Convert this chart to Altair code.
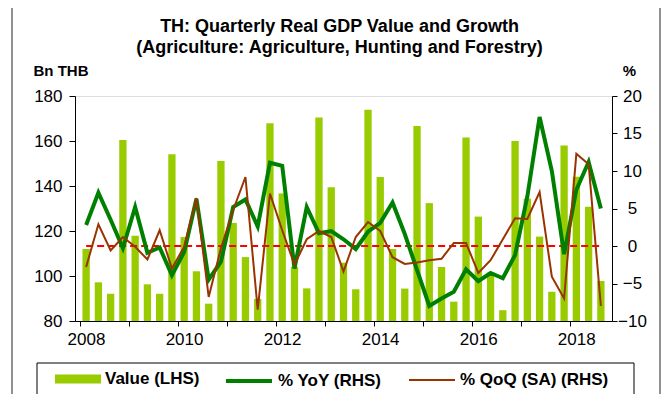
import altair as alt
import pandas as pd

# ---------------- data ----------------
quarters = [f"{y}Q{q}" for y in range(2008, 2019) for q in range(1, 5)][:43]

value_lhs = [112.0, 97.2, 92.1, 160.4,
             117.9, 96.3, 92.1, 154.1,
             117.3, 102.1, 87.7, 151.1,
             123.6, 108.4, 89.8, 167.9,
             136.7, 104.1, 94.5, 170.5,
             139.4, 105.9, 94.1, 173.9,
             144.0, 112.0, 94.4, 166.7,
             132.4, 104.0, 88.6, 161.6,
             126.4, 101.5, 84.8, 160.0,
             134.4, 117.5, 93.0, 158.0,
             144.1, 130.8, 97.8]

yoy = [2.8, 7.1, 3.5, -0.3,
       5.2, -0.9, -0.2, -3.9,
       -0.8, 6.3, -4.5, -2.1,
       5.2, 6.2, 2.6, 11.1,
       10.7, -3.0, 5.2, 1.7,
       2.0, 0.9, -0.4, 1.9,
       3.1, 5.8, 1.6, -3.2,
       -8.0, -7.0, -6.1, -3.1,
       -4.7, -3.6, -4.3, -1.2,
       6.6, 17.2, 10.0, -1.1,
       7.5, 11.2, 5.0]

qoq = [-2.8, 2.9, -0.6, 1.2,
       -0.1, -1.8, 2.1, -3.0,
       -0.1, 6.4, -6.8, -0.3,
       4.8, 9.2, -8.5, 7.0,
       2.1, -2.5, 0.9, 2.0,
       1.2, -3.4, 1.2, 3.2,
       2.0, -1.5, -2.4, -2.2,
       -1.9, -1.7, 0.4, 0.4,
       -3.6, -1.9, 0.9, 3.7,
       3.6, 7.2, -4.1, -7.0,
       12.3, 10.9, -8.0]

left_ticks = [80, 100, 120, 140, 160, 180]
right_ticks = [-10, -5, 0, 5, 10, 15, 20]
series_names = ["Value (LHS)", "% YoY (RHS)", "% QoQ (SA) (RHS)"]
title_lines = ["TH: Quarterly Real GDP Value and Growth",
               "(Agriculture: Agriculture, Hunting and Forestry)"]

df = pd.DataFrame({"quarter": quarters, "idx": list(range(len(quarters))),
                   "value": value_lhs, "yoy": yoy, "qoq": qoq})
n = len(quarters)

# ---------------- style ----------------
FONT = "Liberation Sans"
TICK_FS = 17
W, H = 537, 225
BAR_C, YOY_C, QOQ_C, ZERO_C = "#99CC00", "#008000", "#993300", "#FF0000"

x_scale = alt.Scale(domain=[-0.5, n - 0.5], nice=False, zero=False)
x_axis = alt.Axis(values=[-0.5 + 4 * k for k in range(11)],
                  labelExpr="(datum.value + 0.5) % 8 == 0 ? '' + (2008 + (datum.value + 0.5) / 4) : ''",
                  labelOffset=6, tickSize=5, labelPadding=5, grid=False, title=None,
                  labelFont=FONT, labelFontSize=TICK_FS, labelColor="black",
                  domainColor="black", tickColor="black", labelFlush=False,
                  labelOverlap=False)
x_enc = alt.X("idx:Q", scale=x_scale, axis=x_axis)

left_axis = alt.Axis(values=left_ticks, tickSize=6, labelPadding=7, grid=False,
                     labelFont=FONT, labelFontSize=TICK_FS, labelColor="black",
                     domainColor="black", tickColor="black",
                     title="Bn THB", titleAngle=0, titleX=-42, titleY=-21,
                     titleAlign="left", titleBaseline="alphabetic",
                     titleFont=FONT, titleFontSize=15, titleFontWeight="bold",
                     titleColor="black")
right_scale = alt.Scale(domain=[-10, 20], nice=False, zero=False)
right_axis = alt.Axis(values=right_ticks, orient="right", tickSize=5, labelPadding=15,
                      labelAlign="center",
                      grid=False, labelFont=FONT, labelFontSize=TICK_FS, labelColor="black",
                      domainColor="black", tickColor="black",
                      title="%", titleAngle=0, titleX=17, titleY=-21,
                      titleAlign="center", titleBaseline="alphabetic",
                      titleFont=FONT, titleFontSize=15, titleFontWeight="bold",
                      titleColor="black")


def legend(x, shape, sw):
    return alt.Legend(title=None, orient="none", legendX=x, legendY=260,
                      symbolType=shape, symbolSize=2116, symbolStrokeWidth=sw,
                      labelFont=FONT, labelFontSize=17, labelFontWeight="bold",
                      labelColor="black", labelOffset=4, padding=0)


bars = alt.Chart(df).transform_calculate(s=f"'{series_names[0]}'").mark_bar(
    size=7.3).encode(
    x=x_enc,
    y=alt.Y("value:Q", scale=alt.Scale(domain=[80, 180], nice=False, zero=False),
            axis=left_axis),
    y2=alt.datum(80),
    color=alt.Color("s:N", scale=alt.Scale(range=[BAR_C]),
                    legend=legend(-20, "M-1,-0.2H1V0.2H-1Z", 0)),
)

zero_rule = alt.Chart(alt.Data(values=[{}])).mark_rule(
    color=ZERO_C, strokeDash=[7, 4], strokeWidth=2).encode(
    x=alt.X(datum=0, type="quantitative", scale=x_scale, axis=x_axis),
    x2=alt.datum(n - 1),
    y=alt.Y(datum=0, type="quantitative", scale=right_scale, axis=right_axis),
)

yoy_line = alt.Chart(df).transform_calculate(s=f"'{series_names[1]}'").mark_line(
    strokeWidth=4).encode(
    x=x_enc,
    y=alt.Y("yoy:Q", scale=right_scale, axis=right_axis),
    color=alt.Color("s:N", scale=alt.Scale(range=[YOY_C]),
                    legend=legend(149, "M-1,0H1", 4)),
)

qoq_line = alt.Chart(df).transform_calculate(s=f"'{series_names[2]}'").mark_line(
    strokeWidth=2).encode(
    x=x_enc,
    y=alt.Y("qoq:Q", scale=right_scale, axis=right_axis),
    color=alt.Color("s:N", scale=alt.Scale(range=[QOQ_C]),
                    legend=legend(333, "M-1,0H1", 2)),
)

lines = alt.layer(zero_rule, yoy_line, qoq_line).resolve_scale(color="independent")

frame = alt.Chart(alt.Data(values=[{}])).mark_rect(
    fill="transparent", stroke="#222222", strokeWidth=1).encode(
    x=alt.value(-63), x2=alt.value(585), y=alt.value(-90), y2=alt.value(330))

legend_box = alt.Chart(alt.Data(values=[{}])).mark_rect(
    fill="transparent", stroke="black", strokeWidth=1).encode(
    x=alt.value(-38), x2=alt.value(559), y=alt.value(267), y2=alt.value(299))

chart = alt.layer(frame, legend_box, bars, lines).resolve_scale(
    y="independent", color="independent").properties(
    width=W, height=H,
    autosize=alt.AutoSizeParams(type="none"),
    padding={"left": 67, "top": 88, "right": 49, "bottom": 73},
    title=alt.TitleParams(text=title_lines, font=FONT, fontSize=18,
                          fontWeight="bold", color="black", anchor="middle",
                          dx=-4, offset=-51, lineHeight=21),
).configure_view(stroke=None).configure(background="white")

chart.save("out.html", embed_options={"renderer": "svg", "actions": False})
